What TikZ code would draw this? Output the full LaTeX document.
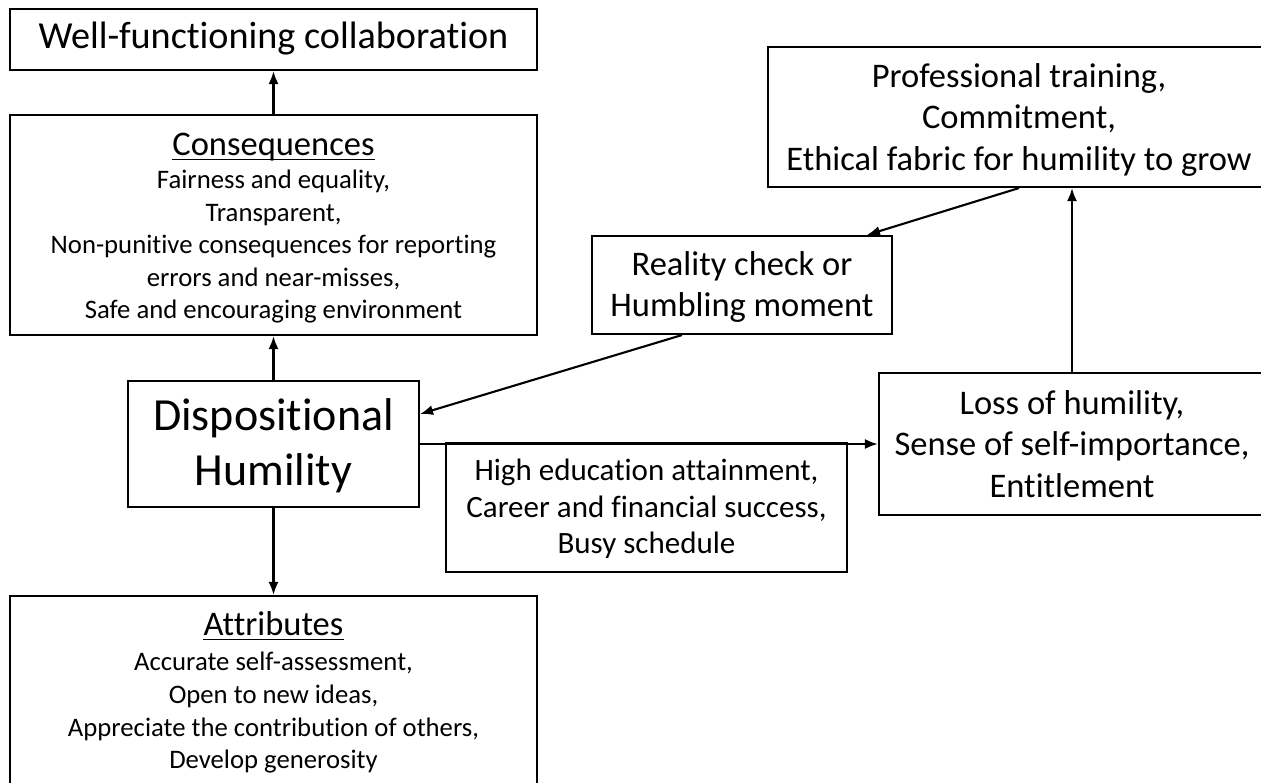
\documentclass[tikz,border=0pt]{standalone}
\usepackage{fontspec}
\setmainfont{Carlito}[Ligatures={NoCommon,NoContextual}, RawFeature={-liga;-clig}]
\usetikzlibrary{arrows.meta}
\begin{document}
\begin{tikzpicture}[x=1pt,y=-1pt,
  box/.style={draw, line width=2.1pt, rectangle, inner sep=0pt},
  arr/.style={line width=2.1pt, -{Latex[length=13pt,width=10pt]}},
  twell/.style={inner sep=0pt, anchor=base, font=\fontsize{38.2}{46}\selectfont},
  tdisp/.style={inner sep=0pt, anchor=base, font=\fontsize{46}{56}\selectfont},
  tmid/.style={inner sep=0pt, anchor=base, font=\fontsize{34.5}{42}\selectfont},
  tedu/.style={inner sep=0pt, anchor=base, font=\fontsize{31}{37.8}\selectfont},
  tbody/.style={inner sep=0pt, anchor=base, font=\fontsize{26.7}{32.6}\selectfont},
  uline/.style={line width=1.6pt}
]
\useasboundingbox (0,0) rectangle (1261,782);
\clip (0,0) rectangle (1261,782);
\fill[white] (0,0) rectangle (1261,782);

% boxes
\node[box, minimum width=527pt, minimum height=61pt] (well) at (273.5,39.5) {};
\node[box, minimum width=527pt, minimum height=220pt] (cons) at (273.5,225) {};
\node[box, minimum width=291pt, minimum height=126pt] (disp) at (273.5,444) {};
\node[box, minimum width=527pt, minimum height=220pt] (attr) at (273.5,706) {};
\node[box, minimum width=300pt, minimum height=98pt] (real) at (742,285) {};
\node[box, minimum width=502pt, minimum height=140pt] (prof) at (1019,117) {};
\node[box, minimum width=386pt, minimum height=142pt] (loss) at (1072,444) {};
\node[box, minimum width=401pt, minimum height=129pt] (edu) at (646.5,507.5) {};

% texts
\node[twell] (wellt) at (273.5,48.5) {Well-functioning collaboration};

\node[tmid] (const) at (273.5,155) {Consequences};
\draw[uline] ([yshift=-4.5pt]const.base west) -- ([yshift=-4.5pt]const.base east);
\node[tbody] (cons1) at (273.5,188) {Fairness and equality,};
\node[tbody] (cons2) at (273.5,221) {Transparent,};
\node[tbody] (cons3) at (273.5,253) {Non-punitive consequences for reporting};
\node[tbody] (cons4) at (273.5,286) {errors and near-misses,};
\node[tbody] (cons5) at (273.5,318) {Safe and encouraging environment};

\node[tdisp] (disp1) at (273.5,430) {Dispositional};
\node[tdisp] (disp2) at (273.5,485) {Humility};

\node[tmid] (attrt) at (273.5,635) {Attributes};
\draw[uline] ([yshift=-4.5pt]attrt.base west) -- ([yshift=-4.5pt]attrt.base east);
\node[tbody] (attr1) at (273.5,670) {Accurate self-assessment,};
\node[tbody] (attr2) at (273.5,703) {Open to new ideas,};
\node[tbody] (attr3) at (273.5,736) {Appreciate the contribution of others,};
\node[tbody] (attr4) at (273.5,768) {Develop generosity};

\node[tmid] (real1) at (742,275) {Reality check or};
\node[tmid] (real2) at (742,316.5) {Humbling moment};

\node[tmid] (prof1) at (1019,87) {Professional training,};
\node[tmid] (prof2) at (1019,128.5) {Commitment,};
\node[tmid] (prof3) at (1019,170) {Ethical fabric for humility to grow};

\node[tmid] (loss1) at (1072,414) {Loss of humility,};
\node[tmid] (loss2) at (1072,455.5) {Sense of self-importance,};
\node[tmid] (loss3) at (1072,497) {Entitlement};

\node[tedu] (edu1) at (646.5,480) {High education attainment,};
\node[tedu] (edu2) at (646.5,517) {Career and financial success,};
\node[tedu] (edu3) at (646.5,553) {Busy schedule};

% connectors
\draw[arr] (cons.north) -- (well.south);
\draw[arr] (disp.north) -- (cons.south);
\draw[arr] (disp.south) -- (attr.north);
\draw[arr] (disp.east) -- (loss.west);
\draw[arr] (loss.north) -- (loss.north |- prof.south);
\draw[arr] (prof.south) -- ([xshift=125pt]real.north);
\draw[arr] ([xshift=-60pt]real.south) -- ([yshift=30pt]disp.east);
\end{tikzpicture}
\end{document}
